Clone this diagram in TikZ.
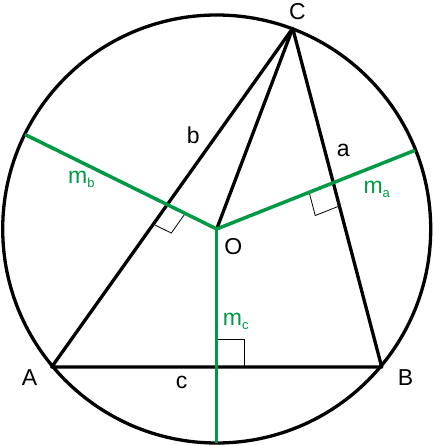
\documentclass[tikz,border=0pt]{standalone}
\usepackage{fontspec}
\setmainfont{Liberation Sans}
\usetikzlibrary{calc}
\definecolor{bisgreen}{RGB}{0,153,68}
\tikzset{
    side/.style={-,line width=3.3pt,line join=round},
    bisector/.style={-,line width=3.5pt,color=bisgreen},
    rightangle/.style={-,line width=0.8pt},
    letter/.style={anchor=base,inner sep=0pt,font=\fontsize{23}{26}\selectfont},
    mlabel/.style={anchor=base west,inner sep=0pt,text=bisgreen,font=\fontsize{23}{26}\selectfont}
}
\newcommand{\msub}[1]{m\raisebox{-4pt}{\fontsize{13}{13}\selectfont #1}}

\begin{document}
\begin{tikzpicture}[x=1pt,y=-1pt]
    \useasboundingbox (0,0) rectangle (433,446);

    % points of the triangle and the circumcentre
    \coordinate (O) at (216.7,229);
    \coordinate (A) at (51.7,367);
    \coordinate (B) at (381.7,367);
    \coordinate (C) at (292.7,28.3);
    % ends of the bisectors on the circle
    \coordinate (Mb) at (25,134.5);
    \coordinate (Ma) at (415,150.3);
    \coordinate (Mc) at (216.7,443);

    \draw[side] (O) circle (214);
    \draw[side] (A) -- (B) -- (C) -- cycle;
    \draw[side] (C) -- (O);

    % right angles
    \coordinate (Pa) at (intersection of O--Ma and B--C);
    \coordinate (Pb) at (intersection of O--Mb and A--C);
    \coordinate (Pc) at (intersection of O--Mc and A--B);
    \coordinate (Pa1) at ($(Pa)!26pt!(O)$);
    \coordinate (Pa2) at ($(Pa)!24pt!(B)$);
    \coordinate (Pb1) at ($(Pb)!24pt!(A)$);
    \coordinate (Pb2) at ($(Pb)!20pt!(O)$);
    \coordinate (Pc1) at ($(Pc)!28pt!(O)$);
    \coordinate (Pc2) at ($(Pc)!28pt!(B)$);
    \draw[rightangle] (Pa1) -- ($(Pa1)+(Pa2)-(Pa)$) -- (Pa2);
    \draw[rightangle] (Pb1) -- ($(Pb1)+(Pb2)-(Pb)$) -- (Pb2);
    \draw[rightangle] (Pc1) -- ($(Pc1)+(Pc2)-(Pc)$) -- (Pc2);

    \draw[bisector] (Mb) -- (O) -- (Ma);
    \draw[bisector] (O) -- (Mc);

    \node[letter] (lA) at (29.5,385.3)  {A};
    \node[letter] (lB) at (405.5,385.3) {B};
    \node[letter] (lC) at (297.5,20)    {C};
    \node[letter] (lO) at (233.3,254.7) {O};
    \node[letter] (la) at (343.3,156.7) {a};
    \node[letter] (lb) at (193.3,143.3) {b};
    \node[letter] (lc) at (181.7,388)   {c};

    \node[mlabel] (lma) at (363.3,193.3) {\msub{a}};
    \node[mlabel] (lmb) at (68,184)      {\msub{b}};
    \node[mlabel] (lmc) at (222.7,325.7) {\msub{c}};
\end{tikzpicture}
\end{document}
